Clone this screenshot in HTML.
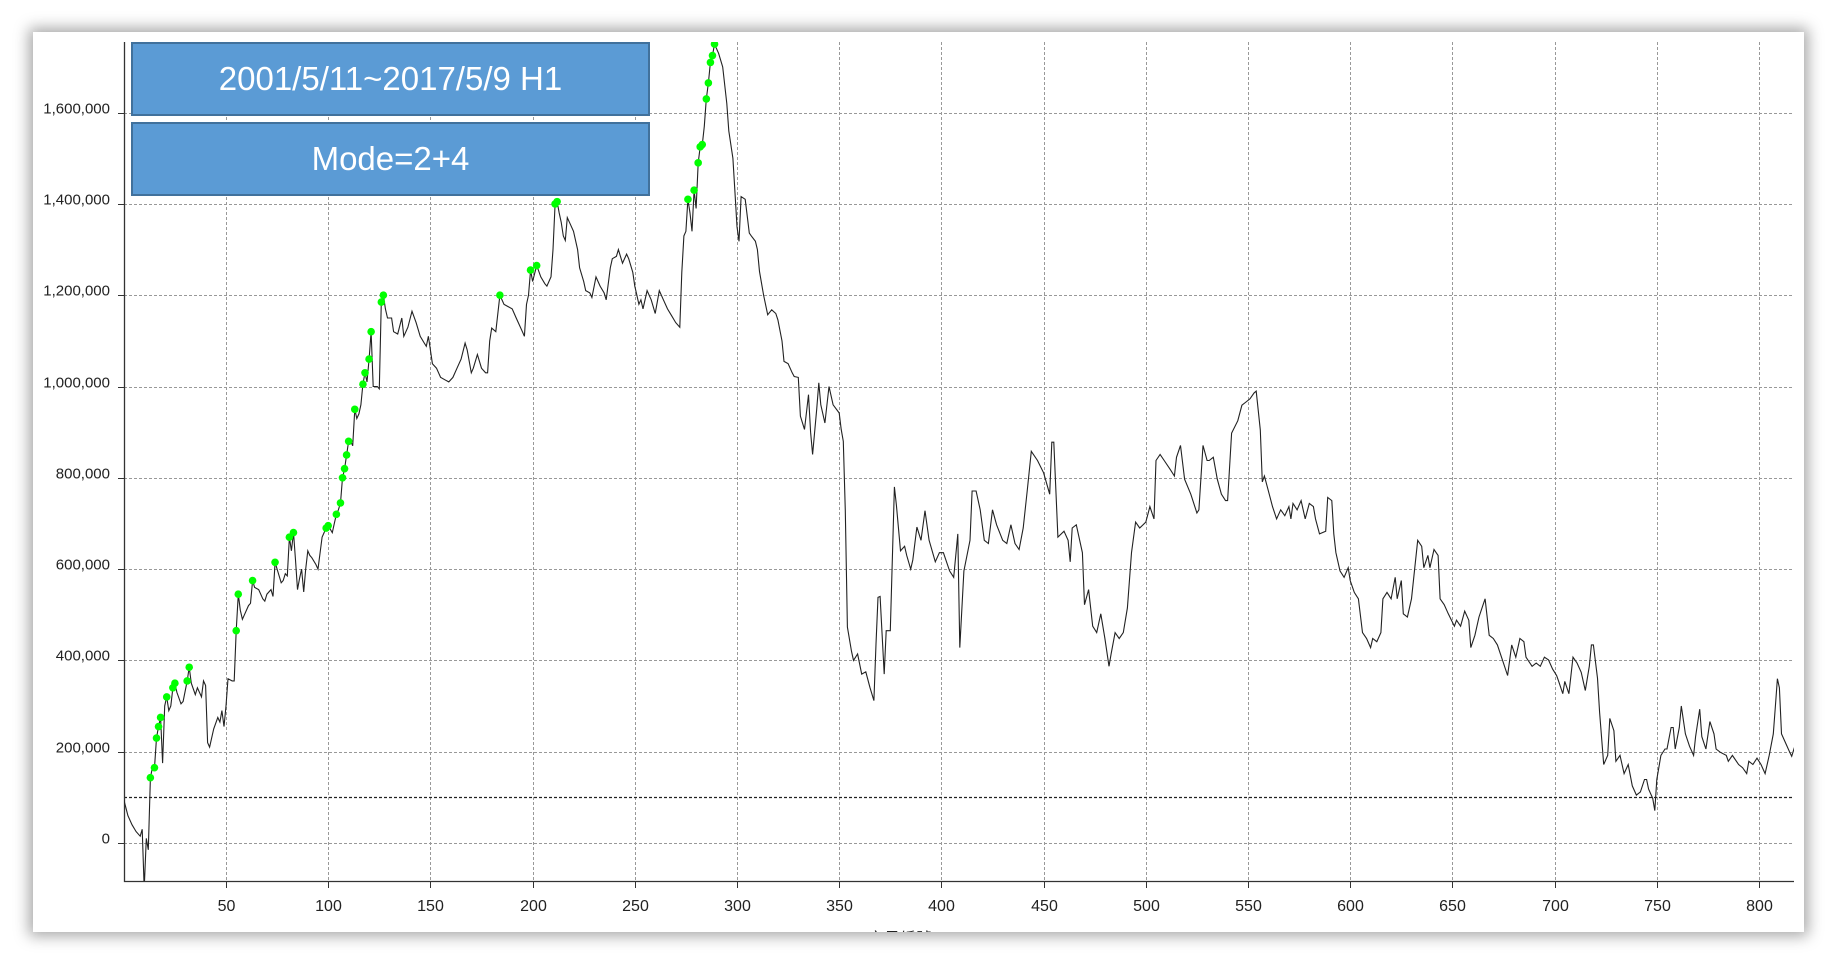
<!DOCTYPE html>
<html><head><meta charset="utf-8"><style>
html,body{margin:0;padding:0;background:#fff;width:1836px;height:964px;overflow:hidden;font-family:"Liberation Sans","Noto Sans CJK TC",sans-serif}
#panel{position:absolute;left:33px;top:32px;width:1771px;height:900px;background:#fff;box-shadow:0 0 14px 4px rgba(0,0,0,0.35)}
svg{position:absolute;left:0;top:0}
.box{position:absolute;left:131px;width:515px;background:#5b9bd5;border:2px solid #41719c;color:#fff;font-size:33px;text-align:center;font-family:"Liberation Sans Narrow","Liberation Sans",sans-serif}
</style></head><body>
<div id="panel"></div>
<svg id="chart" width="1836" height="964"></svg>
<div class="box" style="top:42px;height:70px;line-height:70px">2001/5/11~2017/5/9 H1</div>
<div class="box" style="top:122px;height:70px;line-height:70px">Mode=2+4</div>
<script>
const seriesIdx=[0,2,4,6,8,9,10,11,12,13,14,15,16,17,18,19,20,21,22,23,24,25,26,28,29,31,32,33,35,36,38,39,40,41,42,44,46,47,48,49,50,51,53,54,55,56,57,58,59,61,62,63,64,66,68,69,70,72,73,74,75,77,78,79,80,81,82,83,84,85,86,87,88,89,90,91,92,94,95,97,98,99,100,102,103,104,105,106,107,108,109,110,111,112,113,114,115,116,117,118,119,120,121,122,124,125,126,127,128,129,131,132,134,136,137,139,141,143,145,147,148,149,151,153,155,157,159,161,163,165,167,168,170,171,173,175,177,178,179,180,182,184,186,188,190,192,193,195,196,197,198,199,200,202,204,206,207,209,210,211,212,213,214,215,216,217,218,220,222,223,225,226,228,229,231,233,235,236,238,239,241,242,244,246,247,249,250,252,253,254,256,258,260,262,264,266,268,270,272,273,274,275,276,277,278,279,280,281,282,283,284,285,286,287,288,289,291,293,295,296,298,299,300,301,302,304,306,307,309,310,311,313,315,317,319,320,322,323,325,327,328,330,331,333,335,336,337,339,340,341,343,345,347,350,351,352,353,354,356,357,359,361,363,365,367,368,369,370,372,373,375,377,378,380,382,383,385,386,388,390,392,394,397,399,401,404,406,408,409,411,414,415,417,419,421,423,425,427,430,432,434,436,438,440,442,444,447,450,453,454,455,457,460,462,463,464,466,469,470,472,474,476,478,480,482,483,485,487,489,491,493,495,497,500,502,504,505,507,509,512,514,515,517,519,522,525,526,528,530,531,533,535,537,539,540,542,545,547,549,551,553,554,556,557,558,560,562,564,566,568,570,571,572,574,576,578,580,582,583,585,588,589,591,592,593,595,597,599,600,602,604,606,608,610,611,613,615,616,618,620,622,623,625,626,628,630,633,635,636,638,639,641,643,644,646,648,651,652,654,656,658,659,661,663,665,666,668,670,672,674,677,679,681,683,685,686,689,691,693,695,697,699,701,702,704,705,707,709,711,713,715,717,718,719,721,722,724,726,727,729,730,732,734,736,738,740,742,744,745,746,748,749,750,752,754,755,757,758,759,761,762,764,766,768,769,771,772,774,776,778,779,781,784,785,787,790,792,794,795,797,799,801,803,805,807,808,809,810,811,813,815,816,818];
const seriesVal=[95,60,40,25,15,30,-100,10,-15,143,165,165,230,255,275,175,300,320,290,300,340,350,330,305,310,355,385,350,325,340,320,355,345,220,210,250,275,265,290,255,300,360,355,355,465,545,510,490,500,520,525,575,560,555,535,530,545,555,540,615,600,570,575,590,585,670,640,680,620,555,580,600,550,600,640,630,625,610,600,670,680,690,695,680,700,720,730,745,800,820,850,880,880,870,950,930,940,960,1005,1030,1010,1060,1120,1000,1000,995,1185,1200,1170,1150,1150,1120,1115,1150,1110,1130,1165,1140,1110,1095,1088,1110,1050,1040,1020,1015,1010,1020,1040,1060,1095,1080,1030,1040,1070,1040,1030,1030,1100,1128,1120,1200,1180,1175,1170,1150,1140,1120,1110,1180,1200,1255,1230,1265,1240,1225,1220,1240,1300,1400,1405,1380,1360,1330,1320,1370,1360,1340,1300,1260,1230,1210,1205,1195,1240,1220,1205,1190,1260,1280,1285,1300,1270,1290,1280,1250,1220,1180,1190,1170,1210,1190,1160,1210,1190,1170,1155,1140,1130,1250,1330,1340,1410,1380,1340,1430,1390,1490,1525,1530,1570,1630,1665,1710,1725,1750,1730,1700,1620,1560,1500,1424,1350,1318,1416,1410,1336,1330,1318,1300,1252,1200,1157,1168,1160,1146,1100,1055,1050,1030,1022,1020,935,906,982,900,851,950,1008,960,920,1000,960,942,906,880,728,473,420,400,414,370,375,341,312,436,538,540,370,465,465,780,740,640,650,630,600,620,692,663,728,663,616,636,636,596,582,677,428,596,663,771,771,730,663,656,730,697,663,656,697,656,643,690,771,858,838,811,764,878,878,670,683,663,616,690,697,636,522,555,475,461,502,448,387,414,461,448,461,515,636,703,690,703,737,710,838,851,838,818,804,845,871,797,764,723,730,871,838,838,845,797,764,750,750,898,925,959,966,973,986,990,905,791,804,771,737,710,730,717,737,710,744,730,750,710,744,737,710,677,683,757,750,677,636,596,582,603,575,549,535,461,448,428,448,441,461,535,549,535,582,535,575,502,495,535,663,650,603,630,603,643,630,535,522,502,475,488,475,508,488,428,455,495,522,535,455,448,434,407,367,434,407,448,441,407,387,394,387,407,401,381,367,354,327,354,327,407,394,374,334,387,434,434,361,286,172,192,273,246,179,192,152,172,125,105,112,139,139,118,98,71,139,192,206,206,253,253,206,253,300,239,212,192,233,293,233,206,266,239,206,199,192,179,192,172,165,152,179,172,186,172,152,192,239,300,360,340,239,219,199,190,219];
const signalIdx=[13,15,16,17,18,21,24,25,31,32,55,56,63,74,81,83,99,100,104,106,107,108,109,110,113,117,118,120,121,126,127,184,199,202,211,212,276,279,281,282,283,285,286,287,288,289];
const signalVal=[143,165,230,255,275,320,340,350,355,385,465,545,575,615,670,680,690,695,720,745,800,820,850,880,950,1005,1030,1060,1120,1185,1200,1200,1255,1265,1400,1405,1410,1430,1490,1525,1530,1630,1665,1710,1725,1750];
const xTicks=[50,100,150,200,250,300,350,400,450,500,550,600,650,700,750,800];
const yTicks=[0,200,400,600,800,1000,1200,1400,1600];
const yTickLabels=["0","200,000","400,000","600,000","800,000","1,000,000","1,200,000","1,400,000","1,600,000"];
const refLevel=100;

const NS="http://www.w3.org/2000/svg";
const svg=document.getElementById('chart');
const L=124,R=1794,T=42,B=881;
const X=i=>123.8+i*2.044;
const Y=v=>843-v/200*91.3;
function mk(t,a){const e=document.createElementNS(NS,t);for(const k in a)e.setAttribute(k,a[k]);svg.appendChild(e);return e;}
const defs=mk('defs',{});
const cp=document.createElementNS(NS,'clipPath');cp.setAttribute('id','clip');
const cr=document.createElementNS(NS,'rect');cr.setAttribute('x',L);cr.setAttribute('y',T);cr.setAttribute('width',R-L);cr.setAttribute('height',B-T);
cp.appendChild(cr);defs.appendChild(cp);
const cp2=document.createElementNS(NS,'clipPath');cp2.setAttribute('id','panelclip');
const cr2=document.createElementNS(NS,'rect');cr2.setAttribute('x',33);cr2.setAttribute('y',32);cr2.setAttribute('width',1771);cr2.setAttribute('height',900);
cp2.appendChild(cr2);defs.appendChild(cp2);

yTicks.forEach((v,k)=>{
  const y=Math.round(Y(v))+0.5;
  const g=mk('line',{x1:L,x2:R,y1:y,y2:y,stroke:'#999','stroke-dasharray':'3,2','stroke-width':1});
  
  
  const t=mk('line',{x1:L-6,x2:L,y1:y,y2:y,stroke:'#333'});
  
  
  const tx=mk('text',{x:L-14,y:y,'text-anchor':'end','font-size':15,fill:'#222'});
  tx.textContent=yTickLabels[k];
  
  
});
xTicks.forEach(v=>{
  const x=Math.round(X(v))+0.5;
  const g=mk('line',{x1:x,x2:x,y1:T,y2:B,stroke:'#999','stroke-dasharray':'3,2','stroke-width':1});
  
  
  const t=mk('line',{x1:x,x2:x,y1:B,y2:B+7,stroke:'#333'});
  
  
  const tx=mk('text',{x:x,y:911,'text-anchor':'middle','font-size':16,fill:'#222'});
  tx.textContent=v;
  
  
});
const ry=Math.round(Y(refLevel))+0.5;
const ref=mk('line',{x1:L,x2:R,y1:ry,y2:ry,stroke:'#222','stroke-dasharray':'3,2','stroke-width':1.2});


const ax=mk('path',{d:`M${L+0.5},${T} V${B+0.5} H${R}`,fill:'none',stroke:'#333','stroke-width':1.3});


const xl=mk('text',{x:900,y:944,'text-anchor':'middle','font-size':16,fill:'#222','clip-path':'url(#panelclip)'});
xl.textContent='交易編號';



let d='';
seriesIdx.forEach((i,k)=>{d+=(k?'L':'M')+X(i).toFixed(1)+','+Y(seriesVal[k]).toFixed(1);});
const line=mk('path',{d:d,fill:'none',stroke:'#222','stroke-width':1.1,'clip-path':'url(#clip)'});


signalIdx.forEach((i,k)=>{
  const c=mk('circle',{cx:X(i),cy:Y(signalVal[k]),r:3.8,fill:'#00ff00','clip-path':'url(#clip)'});
  
  
});
</script>
</body></html>
